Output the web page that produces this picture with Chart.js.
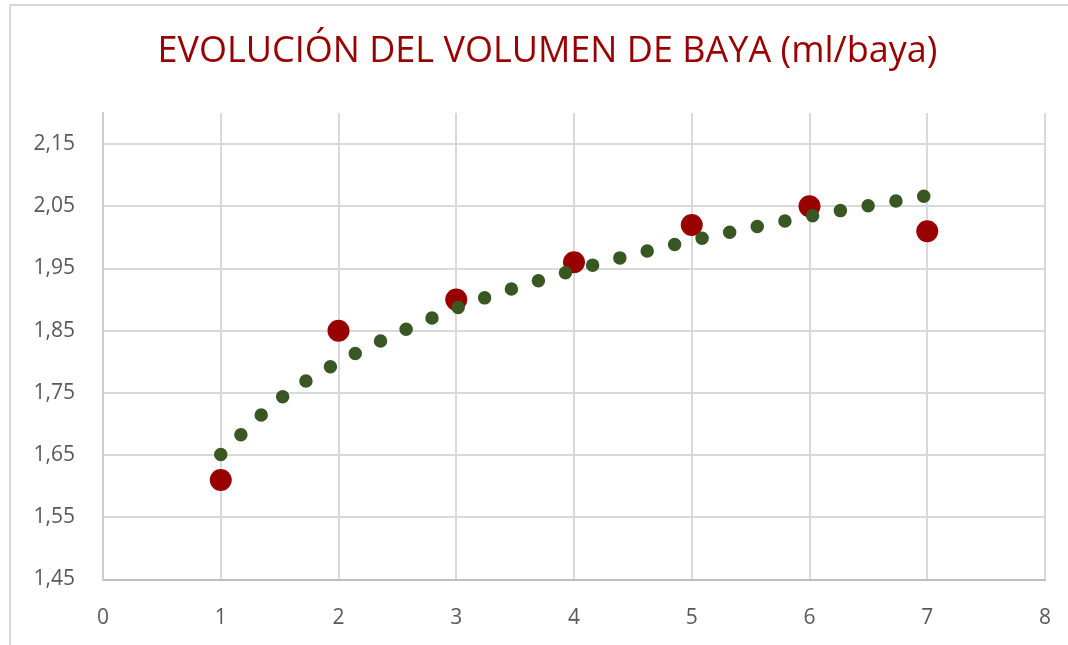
<!DOCTYPE html>
<html>
<head>
<meta charset="utf-8">
<script src="https://cdn.jsdelivr.net/npm/chart.js@4.4.1/dist/chart.umd.min.js"></script>
<style>
  html, body { margin:0; padding:0; background:#fff; overflow:hidden; }
  #wrap { position:relative; width:1068px; height:645px; }
  #frame { position:absolute; left:9px; top:4px; width:1200px; height:800px;
           border-top:2px solid #d9d9d9; border-left:2px solid #d9d9d9; pointer-events:none; }
</style>
</head>
<body>
<div id="wrap"><canvas id="c"></canvas><div id="frame"></div></div>
<script>
// measured berry volume (ml/baya) per sampling
const sampleX = [1, 2, 3, 4, 5, 6, 7];
const berryVol = [1.61, 1.85, 1.90, 1.96, 2.02, 2.05, 2.01];
// trend line
const trendX = [1, 1.5, 2, 3, 4, 5, 6, 7];
const trendVol = [1.651, 1.740, 1.799, 1.886, 1.947, 1.995, 2.034, 2.067];
// axes
const yTicks = [1.45, 1.55, 1.65, 1.75, 1.85, 1.95, 2.05, 2.15];
const xTicks = [0, 1, 2, 3, 4, 5, 6, 7, 8];

const RED = '#990000';
const GREEN = '#385723';
const GRID = '#d9d9d9';
const TICK = '#595959';
const FONT = '"Open Sans", Lato, sans-serif';

// the original chart is cropped on the right, so its title sits right of centre
const titleShift = {
  id: 'titleShift',
  afterLayout(chart) {
    chart.titleBlock.left += 15;
    chart.titleBlock.right += 15;
  }
};

const ctx = document.getElementById('c').getContext('2d');
new Chart(ctx, {
  type: 'scatter',
  plugins: [titleShift],
  data: {
    datasets: [
      {
        label: 'Tendencia',
        data: trendX.map((x, i) => ({x, y: trendVol[i]})),
        showLine: true,
        order: 0,
        pointRadius: 0,
        borderColor: GREEN,
        borderWidth: 13.5,
        borderDash: [0, 28.2],
        borderCapStyle: 'round',
        borderJoinStyle: 'round',
        cubicInterpolationMode: 'monotone',
        tension: 0.4
      },
      {
        label: 'Volumen',
        data: sampleX.map((x, i) => ({x, y: berryVol[i]})),
        order: 1,
        pointRadius: 11,
        pointBorderWidth: 0,
        backgroundColor: RED,
        borderColor: RED
      }
    ]
  },
  options: {
    responsive: true,
    maintainAspectRatio: false,
    animation: false,
    layout: { padding: { left: 20, right: 23, top: 0, bottom: 0 } },
    plugins: {
      legend: { display: false },
      tooltip: { enabled: false },
      title: {
        display: true,
        text: 'EVOLUCIÓN DEL VOLUMEN DE BAYA (ml/baya)',
        color: RED,
        font: { family: FONT, size: 36, weight: 'normal' },
        padding: { top: 30.4, bottom: 39.4 }
      }
    },
    scales: {
      x: {
        type: 'linear',
        min: 0, max: 8,
        afterBuildTicks: s => { s.ticks = xTicks.map(v => ({value: v})); },
        afterFit: s => { s.height = 65.5; s.paddingLeft = 0; s.paddingRight = 0; },
        grid: { color: GRID, lineWidth: 2, drawTicks: false },
        border: { color: '#bfbfbf', width: 2 },
        ticks: { color: TICK, padding: 26, font: { family: FONT, size: 21 } }
      },
      y: {
        type: 'linear',
        min: 1.45, max: 2.2,
        afterBuildTicks: s => { s.ticks = yTicks.map(v => ({value: v})); },
        afterFit: s => { s.width = 83; s.paddingTop = 0; s.paddingBottom = 0; },
        grid: { color: GRID, lineWidth: 2, drawTicks: false },
        border: { color: '#cfcfcf', width: 2 },
        ticks: {
          color: TICK, padding: 28, font: { family: FONT, size: 21 },
          callback: v => v.toFixed(2).replace('.', ',')
        }
      }
    }
  }
});
</script>
</body>
</html>
